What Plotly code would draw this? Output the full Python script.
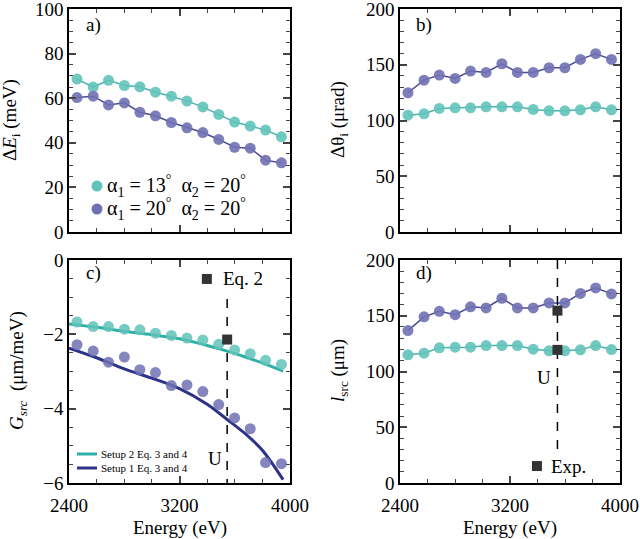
import plotly.graph_objects as go

# ---------------- data ----------------
energy = [2458, 2575, 2686, 2801, 2913, 3026, 3141, 3254, 3369, 3484, 3599, 3712, 3823, 3938]

dE_setup2 = [68.6, 65.0, 68.0, 65.7, 65.1, 62.7, 60.9, 58.7, 56.1, 52.7, 49.3, 47.5, 45.7, 42.7]
dE_setup1 = [60.3, 60.9, 57.0, 57.9, 53.7, 52.1, 49.1, 46.7, 44.6, 41.5, 38.0, 37.6, 32.2, 31.0]

dth_setup2 = [104.8, 106.0, 110.8, 111.4, 111.4, 112.3, 112.3, 112.3, 109.9, 108.7, 108.7, 109.6, 112.3, 109.6]
dth_setup1 = [124.9, 136.2, 140.7, 137.7, 144.3, 143.1, 150.9, 143.1, 143.1, 147.3, 147.3, 154.8, 159.9, 154.8]

G_setup2 = [-1.67, -1.79, -1.79, -1.86, -1.88, -1.97, -2.03, -2.10, -2.15, -2.27, -2.42, -2.52, -2.70, -2.81]
G_setup1 = [-2.28, -2.45, -2.75, -2.61, -2.95, -3.03, -3.38, -3.36, -3.54, -3.89, -4.25, -4.54, -5.45, -5.48]

curve_energy = [2400, 2600, 2800, 3000, 3200, 3400, 3545, 3700, 3800, 3950]
G_curve_setup2 = [-1.72, -1.81, -1.92, -2.01, -2.12, -2.30, -2.45, -2.64, -2.77, -2.99]
G_curve_setup1 = [-2.37, -2.63, -2.93, -3.18, -3.46, -3.88, -4.29, -4.75, -5.12, -5.91]

l_setup2 = [115.0, 116.4, 121.2, 121.8, 121.8, 123.3, 123.3, 123.3, 120.0, 118.5, 118.5, 119.4, 123.3, 119.7]
l_setup1 = [136.7, 149.0, 154.0, 151.0, 158.0, 157.0, 165.7, 157.0, 157.0, 161.5, 161.5, 170.0, 175.0, 169.6]

U_energy = 3545
G_eq2 = -2.14
l_exp = [154.6, 119.4]
G_dash_top = -1.05
l_dash_bottom = 30

eq2_key = (3398, -0.51)
exp_key = (3396, 15.2)

legend_a_labels = ["α<sub>1</sub> = 13<sup>°</sup>  α<sub>2</sub> = 20<sup>°</sup>",
                   "α<sub>1</sub> = 20<sup>°</sup>  α<sub>2</sub> = 20<sup>°</sup>"]
legend_c_labels = ["Setup 2 Eq. 3 and 4", "Setup 1 Eq. 3 and 4"]

# ---------------- style ----------------
TEAL_M = "#62c3ba"
TEAL_L = "#49b3a9"
PURP_M = "#7071b3"
PURP_L = "#4a4a92"
TEAL_C = "#2fb0a6"
NAVY_C = "#2c3388"
SQ = "#333333"
FONT = "Liberation Serif, Times New Roman, serif"
FS = 19

W, H = 640, 539
def px(x0, x1):
    return [x0 / W, x1 / W]
def py(top, bottom):
    return [(H - bottom) / H, (H - top) / H]
def PX(x):
    return x / W
def PY(y):
    return (H - y) / H

fig = go.Figure()

def series(x, y, xa, ya, mc, lc):
    fig.add_trace(go.Scatter(x=x, y=y, xaxis=xa, yaxis=ya, mode="lines+markers",
                             line=dict(color=lc, width=1.5),
                             marker=dict(color=mc, size=11, opacity=0.9),
                             showlegend=False))

# a)
series(energy, dE_setup2, "x", "y", TEAL_M, TEAL_L)
series(energy, dE_setup1, "x", "y", PURP_M, PURP_L)

# b)
series(energy, dth_setup2, "x2", "y2", TEAL_M, TEAL_L)
series(energy, dth_setup1, "x2", "y2", PURP_M, PURP_L)

# c)
fig.add_trace(go.Scatter(x=curve_energy, y=G_curve_setup2, xaxis="x3", yaxis="y3", mode="lines",
                         line=dict(color=TEAL_C, width=3, shape="spline"), showlegend=False))
fig.add_trace(go.Scatter(x=curve_energy, y=G_curve_setup1, xaxis="x3", yaxis="y3", mode="lines",
                         line=dict(color=NAVY_C, width=3, shape="spline"), showlegend=False))
fig.add_trace(go.Scatter(x=energy, y=G_setup2, xaxis="x3", yaxis="y3", mode="markers",
                         marker=dict(color=TEAL_M, size=11, opacity=0.85), showlegend=False))
fig.add_trace(go.Scatter(x=energy, y=G_setup1, xaxis="x3", yaxis="y3", mode="markers",
                         marker=dict(color=PURP_M, size=11, opacity=0.85), showlegend=False))
fig.add_trace(go.Scatter(x=[U_energy, U_energy], y=[G_dash_top, -6], xaxis="x3", yaxis="y3",
                         mode="lines", line=dict(color="black", width=1.5, dash="dash"),
                         showlegend=False))
fig.add_trace(go.Scatter(x=[U_energy, eq2_key[0]], y=[G_eq2, eq2_key[1]], xaxis="x3", yaxis="y3",
                         mode="markers", marker=dict(color=SQ, size=10, symbol="square"),
                         showlegend=False))

# d)
series(energy, l_setup2, "x4", "y4", TEAL_M, TEAL_L)
series(energy, l_setup1, "x4", "y4", PURP_M, PURP_L)
fig.add_trace(go.Scatter(x=[U_energy, U_energy], y=[200, l_dash_bottom], xaxis="x4", yaxis="y4",
                         mode="lines", line=dict(color="black", width=1.5, dash="dash"),
                         showlegend=False))
fig.add_trace(go.Scatter(x=[U_energy, U_energy, exp_key[0]], y=l_exp + [exp_key[1]],
                         xaxis="x4", yaxis="y4", mode="markers",
                         marker=dict(color=SQ, size=10, symbol="square"), showlegend=False))

# ---------------- axes ----------------
def xax(dom, anchor, labels):
    return dict(domain=dom, anchor=anchor, range=[2400, 4000], tickvals=[2400, 3200, 4000],
                showticklabels=labels, ticks="inside", ticklen=7, tickwidth=1.5,
                showline=True, linewidth=1.5, linecolor="black", mirror="ticks",
                showgrid=False, zeroline=False, automargin=False, ticklabelstandoff=4,
                ticklabeloverflow="allow",
                minor=dict(dtick=200, tick0=2400, ticks="inside", ticklen=4, tickwidth=1.2),
                tickfont=dict(family=FONT, size=FS, color="black"))

def yax(dom, anchor, rng, dtick, mdtick):
    return dict(domain=dom, anchor=anchor, range=rng, dtick=dtick,
                ticks="inside", ticklen=7, tickwidth=1.5,
                showline=True, linewidth=1.5, linecolor="black", mirror="ticks",
                showgrid=False, zeroline=False, automargin=False,
                ticklabeloverflow="allow",
                minor=dict(dtick=mdtick, ticks="inside", ticklen=4, tickwidth=1.2),
                tickfont=dict(family=FONT, size=FS, color="black"))

XL, XR = px(69, 290), px(400, 620)
YT, YB = py(9, 232), py(260, 483)

fig.update_layout(
    width=W, height=H, margin=dict(l=0, r=0, t=0, b=0),
    paper_bgcolor="white", plot_bgcolor="white", showlegend=False,
    font=dict(family=FONT, size=FS, color="black"),
    xaxis=xax(XL, "y", False), yaxis=yax(YT, "x", [0, 100], 20, 5),
    xaxis2=xax(XR, "y2", False), yaxis2=yax(YT, "x2", [0, 200], 50, 10),
    xaxis3=xax(XL, "y3", True), yaxis3=yax(YB, "x3", [-6, 0], 2, 0.5),
    xaxis4=xax(XR, "y4", True), yaxis4=yax(YB, "x4", [0, 200], 50, 10),
)
fig.update_layout(yaxis3=dict(tickvals=[-6, -4, -2, 0], ticktext=["−6", "−4", "−2", "0"]))

annotations = []
shapes = []
for t, x, y in [("a)", 84, 25), ("b)", 414, 25), ("c)", 84, 273), ("d)", 414, 273)]:
    annotations.append(dict(text=t, x=PX(x), y=PY(y), xref="paper", yref="paper",
                            xanchor="left", yanchor="middle", showarrow=False,
                            font=dict(family=FONT, size=FS)))
# data-attached labels
annotations += [
    dict(text="Eq. 2", x=eq2_key[0], y=eq2_key[1], xref="x3", yref="y3", xanchor="left",
         xshift=14, showarrow=False, font=dict(family=FONT, size=FS)),
    dict(text="U", x=3457, y=-5.35, xref="x3", yref="y3", showarrow=False,
         font=dict(family=FONT, size=FS)),
    dict(text="Exp.", x=exp_key[0], y=exp_key[1], xref="x4", yref="y4", xanchor="left",
         xshift=12, showarrow=False, font=dict(family=FONT, size=FS)),
    dict(text="U", x=3447, y=95, xref="x4", yref="y4", showarrow=False,
         font=dict(family=FONT, size=FS)),
]
# legend of panel a (marker key)
for lab, col, y in zip(legend_a_labels, [TEAL_M, PURP_M], [186, 209]):
    shapes.append(dict(type="circle", xref="paper", yref="paper",
                       x0=PX(97 - 5.5), x1=PX(97 + 5.5), y0=PY(y + 5.5), y1=PY(y - 5.5),
                       fillcolor=col, line=dict(width=0)))
    annotations.append(dict(text=lab, x=PX(105), y=PY(y), xref="paper", yref="paper",
                            xanchor="left", yanchor="middle", showarrow=False,
                            font=dict(family=FONT, size=20)))
# legend of panel c (line key)
for lab, col, y in zip(legend_c_labels, [TEAL_C, NAVY_C], [454, 468]):
    shapes.append(dict(type="line", xref="paper", yref="paper",
                       x0=PX(77), x1=PX(97), y0=PY(y), y1=PY(y),
                       line=dict(color=col, width=3)))
    annotations.append(dict(text=lab, x=PX(99), y=PY(y), xref="paper", yref="paper",
                            xanchor="left", yanchor="middle", showarrow=False,
                            font=dict(family=FONT, size=11)))
# axis titles
titles = [
    ("Δ<i>E</i><sub>i</sub> (meV)", 11, 120, -90),
    ("Δθ<sub>i</sub> (μrad)", 339, 120, -90),
    ("<i>G<sub>src</sub></i>  (μm/meV)", 18, 371, -90),
    ("<i>l</i><sub>src</sub> (μm)", 339, 371, -90),
    ("Energy (eV)", 180, 528, 0),
    ("Energy (eV)", 510, 528, 0),
]
for t, x, y, ang in titles:
    annotations.append(dict(text=t, x=PX(x), y=PY(y), xref="paper", yref="paper",
                            xanchor="center", yanchor="middle", textangle=ang, showarrow=False,
                            font=dict(family=FONT, size=FS)))
fig.update_layout(annotations=annotations, shapes=shapes)

fig.write_html("out.html")
